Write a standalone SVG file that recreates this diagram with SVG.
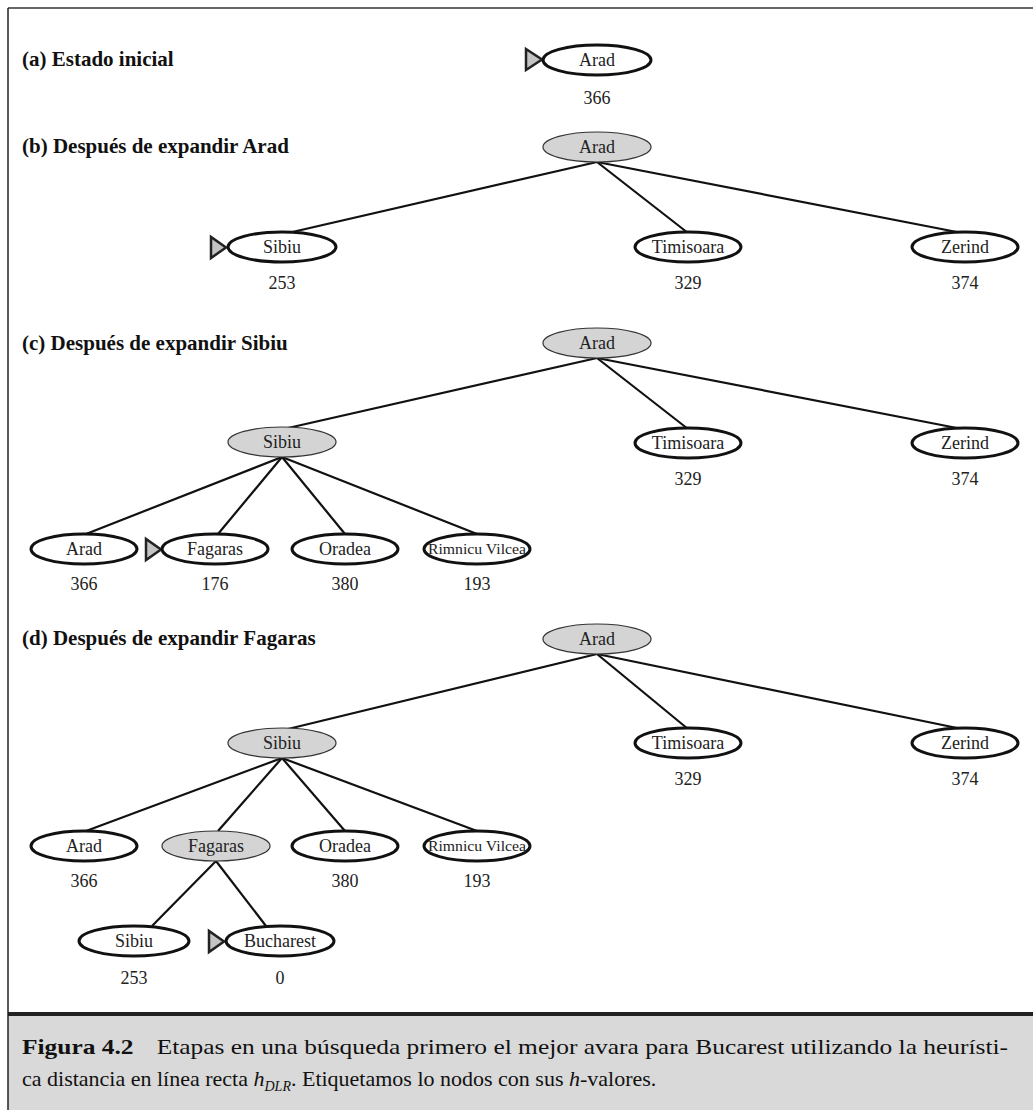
<svg xmlns="http://www.w3.org/2000/svg" width="1033" height="1110" viewBox="0 0 1033 1110">
<style>
text{font-family:"Liberation Serif","Times New Roman",Times,serif}
.lbl{font-size:18px;text-anchor:middle;fill:#222}
.sm{font-size:15px;text-anchor:middle;fill:#222}
.h{font-size:21px;font-weight:bold;fill:#111}
.open{fill:#fff;stroke:#111;stroke-width:3}
.gray{fill:#d4d4d4;stroke:#333;stroke-width:1.2}
.tri{fill:#c4c4c4;stroke:#222;stroke-width:2.5;stroke-linejoin:miter}
.edges line{stroke:#111;stroke-width:2.2}
.cap{font-size:22px;fill:#111}
</style>
<rect x="0" y="0" width="1033" height="1110" fill="#fff"/>
<rect x="8" y="1016" width="1030" height="100" fill="#d9d9d9"/>
<line x1="8" y1="8" x2="1033" y2="8" stroke="#333" stroke-width="1.5"/>
<line x1="8" y1="8" x2="8" y2="1110" stroke="#222" stroke-width="1.5"/>
<line x1="8" y1="1014" x2="1033" y2="1014" stroke="#222" stroke-width="4"/>

<text class="h" x="22" y="66">(a) Estado inicial</text>
<text class="h" x="22" y="153">(b) Después de expandir Arad</text>
<text class="h" x="22" y="350">(c) Después de expandir Sibiu</text>
<text class="h" x="22" y="645">(d) Después de expandir Fagaras</text>

<g class="edges" id="connectors">
<line x1="597" y1="162" x2="288" y2="233"/>
<line x1="597" y1="162" x2="688" y2="233"/>
<line x1="597" y1="162" x2="962" y2="233"/>
<line x1="597" y1="358" x2="288" y2="428"/>
<line x1="597" y1="358" x2="688" y2="429"/>
<line x1="597" y1="358" x2="962" y2="429"/>
<line x1="282" y1="457" x2="86" y2="534"/>
<line x1="282" y1="457" x2="218" y2="534"/>
<line x1="282" y1="457" x2="345" y2="534"/>
<line x1="282" y1="457" x2="477" y2="534"/>
<line x1="597" y1="654" x2="288" y2="729"/>
<line x1="597" y1="654" x2="688" y2="729"/>
<line x1="597" y1="654" x2="962" y2="729"/>
<line x1="282" y1="758" x2="86" y2="831"/>
<line x1="282" y1="758" x2="218" y2="831"/>
<line x1="282" y1="758" x2="345" y2="831"/>
<line x1="282" y1="758" x2="477" y2="831"/>
<line x1="216" y1="861" x2="152" y2="926"/>
<line x1="216" y1="861" x2="266" y2="926"/>
</g>

<!-- (a) -->
<g id="a_arad"><polygon class="tri" points="526,49 526,70 542,59.5"/><ellipse class="open" cx="597" cy="60" rx="54" ry="15"/><text class="lbl" x="597" y="66">Arad</text><text class="lbl" x="597" y="104">366</text></g>

<!-- (b) -->
<g id="b_arad"><ellipse class="gray" cx="597" cy="147" rx="54" ry="15"/><text class="lbl" x="597" y="153">Arad</text></g>
<g id="b_sibiu"><polygon class="tri" points="211,237 211,258 226,247.5"/><ellipse class="open" cx="282" cy="247" rx="54" ry="15"/><text class="lbl" x="282" y="253">Sibiu</text><text class="lbl" x="282" y="289">253</text></g>
<g id="b_timisoara"><ellipse class="open" cx="688" cy="247" rx="53" ry="15"/><text class="lbl" x="688" y="253">Timisoara</text><text class="lbl" x="688" y="289">329</text></g>
<g id="b_zerind"><ellipse class="open" cx="965" cy="247" rx="53" ry="15"/><text class="lbl" x="965" y="253">Zerind</text><text class="lbl" x="965" y="289">374</text></g>

<!-- (c) -->
<g id="c_arad"><ellipse class="gray" cx="597" cy="343" rx="54" ry="15"/><text class="lbl" x="597" y="349">Arad</text></g>
<g id="c_sibiu"><ellipse class="gray" cx="282" cy="442" rx="54" ry="15"/><text class="lbl" x="282" y="448">Sibiu</text></g>
<g id="c_timisoara"><ellipse class="open" cx="688" cy="443" rx="53" ry="15"/><text class="lbl" x="688" y="449">Timisoara</text><text class="lbl" x="688" y="485">329</text></g>
<g id="c_zerind"><ellipse class="open" cx="965" cy="443" rx="53" ry="15"/><text class="lbl" x="965" y="449">Zerind</text><text class="lbl" x="965" y="485">374</text></g>
<g id="c_arad2"><ellipse class="open" cx="84" cy="549" rx="53" ry="15"/><text class="lbl" x="84" y="555">Arad</text><text class="lbl" x="84" y="590">366</text></g>
<g id="c_fagaras"><polygon class="tri" points="146,539 146,560 161,549.5"/><ellipse class="open" cx="215" cy="549" rx="53" ry="15"/><text class="lbl" x="215" y="555">Fagaras</text><text class="lbl" x="215" y="590">176</text></g>
<g id="c_oradea"><ellipse class="open" cx="345" cy="549" rx="53" ry="15"/><text class="lbl" x="345" y="555">Oradea</text><text class="lbl" x="345" y="590">380</text></g>
<g id="c_rimnicu"><ellipse class="open" cx="477" cy="549" rx="53" ry="15"/><text class="sm" x="477" y="554" textLength="98" lengthAdjust="spacingAndGlyphs">Rimnicu Vilcea</text><text class="lbl" x="477" y="590">193</text></g>

<!-- (d) -->
<g id="d_arad"><ellipse class="gray" cx="597" cy="639" rx="54" ry="15"/><text class="lbl" x="597" y="645">Arad</text></g>
<g id="d_sibiu"><ellipse class="gray" cx="282" cy="743" rx="54" ry="15"/><text class="lbl" x="282" y="749">Sibiu</text></g>
<g id="d_timisoara"><ellipse class="open" cx="688" cy="743" rx="53" ry="15"/><text class="lbl" x="688" y="749">Timisoara</text><text class="lbl" x="688" y="785">329</text></g>
<g id="d_zerind"><ellipse class="open" cx="965" cy="743" rx="53" ry="15"/><text class="lbl" x="965" y="749">Zerind</text><text class="lbl" x="965" y="785">374</text></g>
<g id="d_arad2"><ellipse class="open" cx="84" cy="846" rx="53" ry="15"/><text class="lbl" x="84" y="852">Arad</text><text class="lbl" x="84" y="887">366</text></g>
<g id="d_fagaras"><ellipse class="gray" cx="216" cy="846" rx="54" ry="15"/><text class="lbl" x="216" y="852">Fagaras</text></g>
<g id="d_oradea"><ellipse class="open" cx="345" cy="846" rx="53" ry="15"/><text class="lbl" x="345" y="852">Oradea</text><text class="lbl" x="345" y="887">380</text></g>
<g id="d_rimnicu"><ellipse class="open" cx="477" cy="846" rx="53" ry="15"/><text class="sm" x="477" y="851" textLength="98" lengthAdjust="spacingAndGlyphs">Rimnicu Vilcea</text><text class="lbl" x="477" y="887">193</text></g>
<g id="d_sibiu2"><ellipse class="open" cx="134" cy="941" rx="55" ry="15"/><text class="lbl" x="134" y="947">Sibiu</text><text class="lbl" x="134" y="984">253</text></g>
<g id="d_bucharest"><polygon class="tri" points="209,931 209,952 224,941.5"/><ellipse class="open" cx="280" cy="941" rx="54" ry="15"/><text class="lbl" x="280" y="947">Bucharest</text><text class="lbl" x="280" y="984">0</text></g>

<text class="cap" x="22" y="1054" textLength="986" lengthAdjust="spacingAndGlyphs"><tspan font-weight="bold">Figura 4.2</tspan><tspan dx="20">Etapas en una búsqueda primero el mejor avara para Bucarest utilizando la heurísti-</tspan></text>
<text class="cap" x="22" y="1086">ca distancia en línea recta <tspan font-style="italic">h</tspan><tspan font-style="italic" font-size="14" dy="5">DLR</tspan><tspan dy="-5">. Etiquetamos lo nodos con sus </tspan><tspan font-style="italic">h</tspan>-valores.</text>
</svg>
